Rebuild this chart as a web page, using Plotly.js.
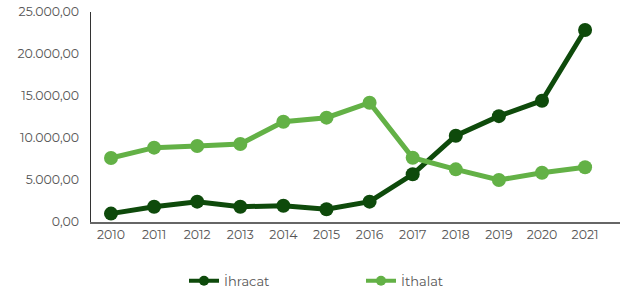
<!DOCTYPE html>
<html><head><meta charset="utf-8">
<script src="https://cdn.plot.ly/plotly-3.0.1.min.js"></script>
<style>html,body{margin:0;padding:0;background:#fff}#chart{width:628px;height:294px}</style>
</head><body><div id="chart"></div>
<script>
const years = [2010,2011,2012,2013,2014,2015,2016,2017,2018,2019,2020,2021];
const ihracat = [1000,1820,2420,1820,1940,1510,2420,5680,10270,12600,14440,22860];
const ithalat = [7620,8850,9050,9290,11940,12420,14200,7650,6270,5000,5870,6510];
const yTicks = [0,5000,10000,15000,20000,25000];
const seriesNames = ['İhracat', 'İthalat'];
const seriesColors = ['#0e4a0b', '#63b146'];

const traces = [
  {x: years, y: ihracat, name: seriesNames[0], type: 'scatter', mode: 'lines+markers', showlegend: false,
   line: {color: seriesColors[0], width: 5}, marker: {color: seriesColors[0], size: 14}},
  {x: years, y: ithalat, name: seriesNames[1], type: 'scatter', mode: 'lines+markers', showlegend: false,
   line: {color: seriesColors[1], width: 5}, marker: {color: seriesColors[1], size: 14}},
  // legend entries (no data drawn), smaller symbol like the reference
  {x: [null], y: [null], name: seriesNames[0], type: 'scatter', mode: 'lines+markers',
   line: {color: seriesColors[0], width: 4}, marker: {color: seriesColors[0], size: 10}},
  {x: [null], y: [null], name: seriesNames[1], type: 'scatter', mode: 'lines+markers',
   line: {color: seriesColors[1], width: 4}, marker: {color: seriesColors[1], size: 10}}
];
const layout = {
  width: 628, height: 294,
  margin: {l: 91, r: 8, t: 12, b: 72, autoexpand: false},
  paper_bgcolor: '#fff', plot_bgcolor: '#fff',
  separators: ',.',
  font: {family: 'Montserrat, "Open Sans", sans-serif', size: 12.5, color: '#555'},
  xaxis: {range: [2009.536, 2021.81], tickmode: 'array', tickvals: years, ticktext: years.map(String), automargin: false,
    showgrid: false, zeroline: false, showline: true, linecolor: '#666', linewidth: 1.5, ticks: '', ticklen: 0, fixedrange: true},
  yaxis: {range: [0, 25000], tickmode: 'array', tickvals: yTicks, tickformat: ',.2f', automargin: false,
    showgrid: false, zeroline: false, showline: true, linecolor: '#333', linewidth: 1.5, ticks: '', ticklabelstandoff: 8},
  showlegend: true,
  legend: {orientation: 'h', xref: 'container', yref: 'container', x: 0.293, xanchor: 'left', y: 0.045, yanchor: 'middle',
    entrywidth: 132, entrywidthmode: 'pixels',
    font: {size: 13, color: '#555'}, traceorder: 'normal'}
};
Plotly.newPlot('chart', traces, layout, {staticPlot: true});
</script></body></html>
